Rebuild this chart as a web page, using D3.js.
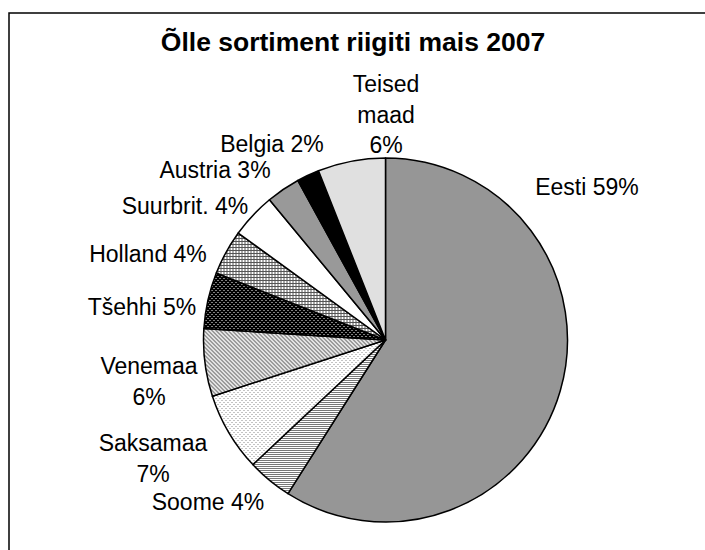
<!DOCTYPE html>
<html>
<head>
<meta charset="utf-8">
<script src="https://cdn.jsdelivr.net/npm/d3@7"></script>
<style>
  body { margin: 0; background: #fff; }
  svg text { font-family: "Liberation Sans", Arial, sans-serif; fill: #000; }
</style>
</head>
<body>
<svg id="chart"></svg>
<script>
// data, in the order the slices run clockwise from 12 o'clock
const countries = ["Eesti", "Soome", "Saksamaa", "Venemaa", "Tšehhi", "Holland", "Suurbrit.", "Austria", "Belgia", "Teised maad"];
const shares = [59, 4, 7, 6, 5, 4, 4, 3, 2, 6];
// how each label is broken into lines
const labelLines = [
    ["Eesti 59%"], ["Soome 4%"], ["Saksamaa", "7%"], ["Venemaa", "6%"], ["Tšehhi 5%"],
    ["Holland 4%"], ["Suurbrit. 4%"], ["Austria 3%"], ["Belgia 2%"], ["Teised", "maad", "6%"]
];

// layout
const W = 705, H = 550;
const cx = 385.5, cy = 340, R = 182;
// label anchors (middle of text, baseline of first line)
const labelPos = [
    [587, 195], [208, 510], [153, 451], [149, 374], [142, 315],
    [148, 262], [185, 214], [215, 178], [272, 152], [386, 92]
];
const lineGap = 30.5;
const fills = ["#969696", "url(#p-horiz)", "url(#p-sparse)", "url(#p-diag)", "url(#p-blackdots)",
    "url(#p-grid)", "#ffffff", "url(#p-vert)", "#000000", "url(#p-light)"];

const svg = d3.select("#chart").attr("width", W).attr("height", H);
svg.append("rect").attr("width", W).attr("height", H).attr("fill", "#fff");

// fill patterns, pixel sized
const defs = svg.append("defs");
const pattern = (id, w, h, bg, pixels, ink) => {
    const p = defs.append("pattern").attr("id", id)
        .attr("patternUnits", "userSpaceOnUse").attr("width", w).attr("height", h);
    p.append("rect").attr("width", w).attr("height", h).attr("fill", bg);
    pixels.forEach(([x, y, pw, ph]) => p.append("rect")
        .attr("x", x).attr("y", y).attr("width", pw || 1).attr("height", ph || 1)
        .attr("fill", ink).attr("shape-rendering", "crispEdges"));
};
pattern("p-horiz", 4, 2, "#ffffff", [[0, 0, 4, 1]], "#777");
pattern("p-sparse", 4, 4, "#ffffff", [[0, 0], [2, 2]], "#888");
pattern("p-diag", 4, 4, "#e2e2e2", [[0, 0], [1, 1], [2, 2], [3, 3]], "#555");
pattern("p-blackdots", 4, 4, "#000000", [[0, 0], [2, 2]], "#fff");
pattern("p-grid", 3, 3, "#ffffff", [[0, 0, 3, 1], [0, 0, 1, 3]], "#555");
pattern("p-vert", 2, 2, "#ffffff", [[0, 0, 1, 2]], "#333");
pattern("p-light", 2, 2, "#ffffff", [[1, 0], [0, 1]], "#c0c0c0");

// frame
svg.append("path")
    .attr("d", `M9,${H} L9,13 L${W},13`)
    .attr("fill", "none").attr("stroke", "#000").attr("stroke-width", 1.5);

// title
svg.append("text")
    .attr("x", 353).attr("y", 51)
    .attr("text-anchor", "middle")
    .style("font-size", "26.5px").style("font-weight", "bold")
    .text("Õlle sortiment riigiti mais 2007");

// pie
const pie = d3.pie().sort(null).value(d => d)(shares);
const arc = d3.arc().innerRadius(0).outerRadius(R);

const g = svg.append("g").attr("transform", `translate(${cx},${cy})`);
g.selectAll("path.slice")
    .data(pie)
    .join("path")
    .attr("class", "slice")
    .attr("d", arc)
    .attr("fill", (d, i) => fills[i])
    .attr("stroke", "#000")
    .attr("stroke-width", 1.5)
    .attr("stroke-linejoin", "round");

// labels
svg.selectAll("text.label")
    .data(countries)
    .join("text")
    .attr("class", "label")
    .attr("text-anchor", "middle")
    .style("font-size", "23px")
    .each(function (d, i) {
        const t = d3.select(this);
        labelLines[i].forEach((line, k) => {
            t.append("tspan")
                .attr("x", labelPos[i][0])
                .attr("y", labelPos[i][1] + k * lineGap)
                .text(line);
        });
    });
</script>
</body>
</html>
